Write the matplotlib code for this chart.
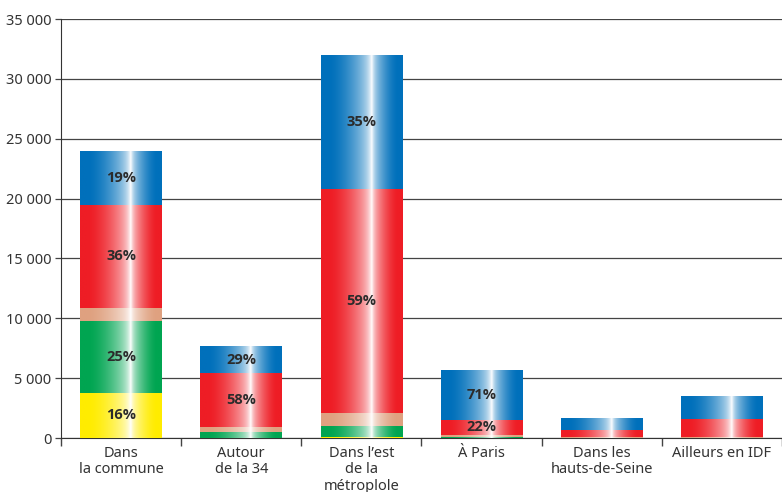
import matplotlib.pyplot as plt
import numpy as np
from matplotlib.colors import to_rgb
from matplotlib.ticker import FuncFormatter

# data (number of people per destination, split by mode)
categories = ["Dans\nla commune", "Autour\nde la 34", "Dans l\u2019est\nde la\nm\u00e9troplole",
              "\u00c0 Paris", "Dans les\nhauts-de-Seine", "Ailleurs en IDF"]
yellow = [3800, 0, 100, 0, 0, 0]
green = [6000, 520, 900, 80, 0, 0]
peach = [1100, 420, 1100, 170, 50, 60]
red = [8600, 4450, 18700, 1270, 620, 1540]
blue = [4500, 2310, 11200, 4180, 1000, 1900]

pct_yellow = ["16%", "", "", "", "", ""]
pct_green = ["25%", "", "", "", "", ""]
pct_red = ["36%", "58%", "59%", "22%", "", ""]
pct_blue = ["19%", "29%", "35%", "71%", "", ""]

series = [
    (yellow, "#FFEC00", pct_yellow),
    (green, "#00A551", pct_green),
    (peach, "#DFA180", None),
    (red, "#EE1D25", pct_red),
    (blue, "#0070BB", pct_blue),
]

plt.rcParams['font.family'] = ['Noto Sans', 'DejaVu Sans']

fig = plt.figure(figsize=(7.82, 4.92), dpi=100)
ax = fig.add_axes([61 / 782, 54 / 492, 721 / 782, 419 / 492])


def gradient_img(color):
    # colour at the edges, soft fade to a thin white line right of centre
    t = np.linspace(0, 1, 300)
    d = np.where(t < 0.62, (0.62 - t) / 0.52, (t - 0.62) / 0.32)
    w = np.clip(1 - d, 0, 1)
    w = 0.75 * w ** 1.6 + 0.25 * w ** 12
    c = np.array(to_rgb(color))
    img = c[None, :] * (1 - w[:, None]) + w[:, None]
    return img[None, :, :]


x = np.arange(len(categories))
bottom = np.zeros(len(categories))
for vals, color, labels in series:
    vals = np.array(vals, dtype=float)
    bars = ax.bar(x, vals, width=0.68, bottom=bottom, facecolor="none",
                  edgecolor="none", zorder=3)
    img = gradient_img(color)
    for b in bars:
        if b.get_height() <= 0:
            continue
        x0, y0 = b.get_x(), b.get_y()
        im = ax.imshow(img, extent=[x0, x0 + b.get_width(), y0, y0 + b.get_height()],
                       aspect="auto", zorder=3, interpolation="bilinear")
        im.set_clip_path(b)
    if labels:
        for i, lab in enumerate(labels):
            if lab:
                ax.text(x[i], bottom[i] + vals[i] / 2, lab, ha="center", va="center",
                        fontsize=10.5, fontweight="bold", color="#2b2b2b", zorder=4,
                        family=["Open Sans", "DejaVu Sans"])
    bottom += vals

ax.set_xlim(-0.5, 5.5 - 0.025)
ax.set_ylim(0, 35000)
ax.set_yticks(np.arange(0, 35001, 5000))
ax.yaxis.set_major_formatter(FuncFormatter(lambda v, p: f"{int(v):,}".replace(",", " ")))
ax.grid(axis="y", color="#444444", linewidth=0.9, zorder=0)
ax.set_axisbelow(True)

ax.set_xticks(x)
ax.set_xticklabels(categories, fontsize=10.5, color="#333333", linespacing=1.1)
ax.set_xticks(np.arange(-0.5, 5.6, 1), minor=True)
ax.tick_params(axis="x", which="major", length=0, pad=6)
ax.tick_params(axis="x", which="minor", length=6, width=1, color="#444444")
ax.tick_params(axis="y", length=4, width=0.9, color="#444444", labelsize=10.5,
               labelcolor="#333333", pad=3)

for s in ["top", "right"]:
    ax.spines[s].set_visible(False)
ax.spines["left"].set_color("#333333")
ax.spines["bottom"].set_color("#333333")

fig.savefig("out.png", dpi=100)
